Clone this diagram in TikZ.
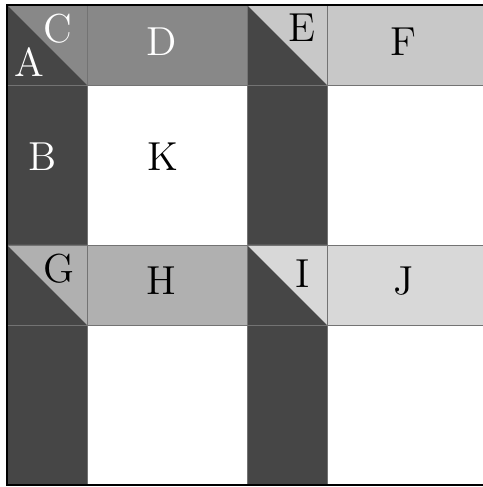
\documentclass[tikz,border=0pt]{standalone}

\definecolor{darkcol}{gray}{0.275}
\definecolor{bandD}{gray}{0.533}
\definecolor{bandF}{gray}{0.784}
\definecolor{bandH}{gray}{0.69}
\definecolor{bandJ}{gray}{0.847}

\begin{document}
\begin{tikzpicture}[
		edge/.style={draw=black!55, line width=0.35pt},
		lab/.style={font=\Large, inner sep=0pt}
	]
		
		\useasboundingbox (-0.0875,-0.025) rectangle (5.95,6.0625);
		\clip (-0.0875,-0.025) rectangle (5.95,6.0625);
		
		% Dark columns
		\draw[edge, fill=darkcol] (0,0) rectangle (1,6);
		\draw[edge, fill=darkcol] (3,0) rectangle (4,6);
		
		% Bands
		\draw[edge, fill=bandD] (1,5) rectangle (3,6);
		\draw[edge, fill=bandF] (4,5) rectangle (6,6);
		\draw[edge, fill=bandH] (1,2) rectangle (3,3);
		\draw[edge, fill=bandJ] (4,2) rectangle (6,3);
		
		% Corner squares split on the diagonal
		\fill[bandD] (0,6) -- (1,6) -- (1,5) -- cycle;
		\fill[bandF] (3,6) -- (4,6) -- (4,5) -- cycle;
		\fill[bandH] (0,3) -- (1,3) -- (1,2) -- cycle;
		\fill[bandJ] (3,3) -- (4,3) -- (4,2) -- cycle;
		\draw[edge] (0,5) rectangle (1,6);
		\draw[edge] (3,5) rectangle (4,6);
		\draw[edge] (0,2) rectangle (1,3);
		\draw[edge] (3,2) rectangle (4,3);
		
		% Frame
		\draw[line width=1pt] (0,0) rectangle (6,6);
		
		% Labels
		\node[lab, white] (A) at (0.28,5.29) {A};
		\node[lab, white] (C) at (0.64,5.70) {C};
		\node[lab, white] (D) at (1.93,5.54) {D};
		\node[lab, white] (B) at (0.44,4.10) {B};
		\node[lab] (K) at (1.95,4.10) {K};
		\node[lab] (E) at (3.69,5.72) {E};
		\node[lab] (F) at (4.96,5.54) {F};
		\node[lab] (G) at (0.65,2.71) {G};
		\node[lab] (H) at (1.93,2.55) {H};
		\node[lab] (I) at (3.69,2.64) {I};
		\node[lab] (J) at (4.96,2.55) {J};
		
	\end{tikzpicture}
\end{document}
